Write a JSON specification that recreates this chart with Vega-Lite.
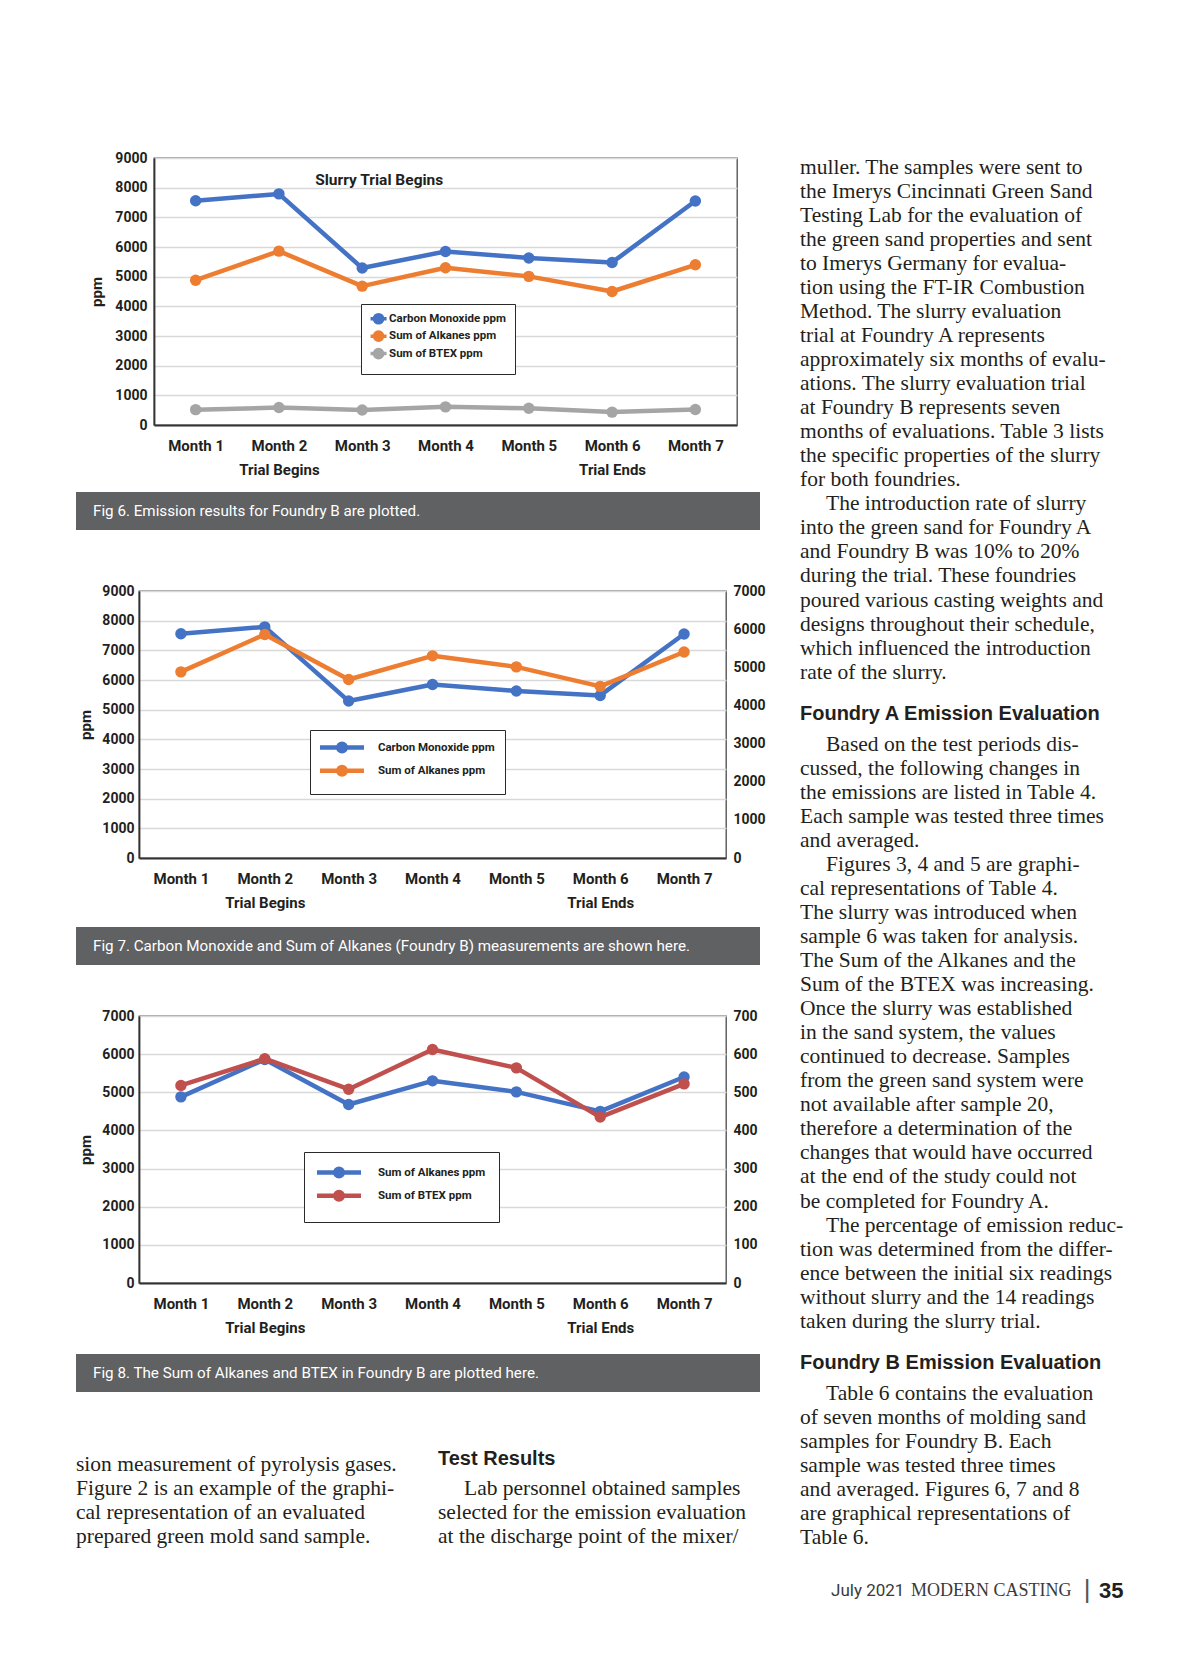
{
  "$schema": "https://vega.github.io/schema/vega-lite/v6.json",
  "background": "white",
  "padding": {"left": 76, "top": 150, "right": 4, "bottom": 4},
  "spacing": 0,
  "resolve": {"scale": {"color": "independent"}, "legend": {"color": "independent"}},
  "config": {
    "view": {"stroke": null},
    "axis": {
      "labelFont": "Roboto, DejaVu Sans Condensed, sans-serif",
      "labelFontWeight": "bold",
      "labelColor": "#231f20",
      "titleFont": "Roboto, DejaVu Sans Condensed, sans-serif",
      "titleFontWeight": "bold",
      "titleColor": "#231f20",
      "titleFontSize": 15,
      "ticks": false,
      "tickSize": 0,
      "domainColor": "#333333",
      "domainWidth": 1.8
    },
    "axisY": {"labelFontSize": 14, "gridColor": "#d9d9d9", "gridWidth": 1.5},
    "axisX": {"labelFontSize": 15, "grid": false},
    "legend": {
      "labelFont": "Roboto, DejaVu Sans Condensed, sans-serif",
      "labelFontWeight": "bold",
      "labelFontSize": 11.5,
      "labelColor": "#231f20",
      "fillColor": "#ffffff",
      "strokeColor": "#2a2a2a",
      "orient": "none"
    }
  },
  "datasets": {
    "emissions": [
      {"month": "Month 1", "series": "Carbon Monoxide ppm", "ppm": 7560},
      {"month": "Month 2", "series": "Carbon Monoxide ppm", "ppm": 7790},
      {"month": "Month 3", "series": "Carbon Monoxide ppm", "ppm": 5290},
      {"month": "Month 4", "series": "Carbon Monoxide ppm", "ppm": 5850},
      {"month": "Month 5", "series": "Carbon Monoxide ppm", "ppm": 5630},
      {"month": "Month 6", "series": "Carbon Monoxide ppm", "ppm": 5480},
      {"month": "Month 7", "series": "Carbon Monoxide ppm", "ppm": 7550},
      {"month": "Month 1", "series": "Sum of Alkanes ppm", "ppm": 4880},
      {"month": "Month 2", "series": "Sum of Alkanes ppm", "ppm": 5860},
      {"month": "Month 3", "series": "Sum of Alkanes ppm", "ppm": 4680},
      {"month": "Month 4", "series": "Sum of Alkanes ppm", "ppm": 5300},
      {"month": "Month 5", "series": "Sum of Alkanes ppm", "ppm": 5010},
      {"month": "Month 6", "series": "Sum of Alkanes ppm", "ppm": 4500},
      {"month": "Month 7", "series": "Sum of Alkanes ppm", "ppm": 5400},
      {"month": "Month 1", "series": "Sum of BTEX ppm", "ppm": 518},
      {"month": "Month 2", "series": "Sum of BTEX ppm", "ppm": 588},
      {"month": "Month 3", "series": "Sum of BTEX ppm", "ppm": 508},
      {"month": "Month 4", "series": "Sum of BTEX ppm", "ppm": 612},
      {"month": "Month 5", "series": "Sum of BTEX ppm", "ppm": 564},
      {"month": "Month 6", "series": "Sum of BTEX ppm", "ppm": 435},
      {"month": "Month 7", "series": "Sum of BTEX ppm", "ppm": 522}
    ],
    "pagetext": [
      {"column": "right", "line": 0, "kind": "body", "text": "muller. The samples were sent to"},
      {"column": "right", "line": 1, "kind": "body", "text": "the Imerys Cincinnati Green Sand"},
      {"column": "right", "line": 2, "kind": "body", "text": "Testing Lab for the evaluation of"},
      {"column": "right", "line": 3, "kind": "body", "text": "the green sand properties and sent"},
      {"column": "right", "line": 4, "kind": "body", "text": "to Imerys Germany for evalua-"},
      {"column": "right", "line": 5, "kind": "body", "text": "tion using the FT-IR Combustion"},
      {"column": "right", "line": 6, "kind": "body", "text": "Method. The slurry evaluation"},
      {"column": "right", "line": 7, "kind": "body", "text": "trial at Foundry A represents"},
      {"column": "right", "line": 8, "kind": "body", "text": "approximately six months of evalu-"},
      {"column": "right", "line": 9, "kind": "body", "text": "ations. The slurry evaluation trial"},
      {"column": "right", "line": 10, "kind": "body", "text": "at Foundry B represents seven"},
      {"column": "right", "line": 11, "kind": "body", "text": "months of evaluations. Table 3 lists"},
      {"column": "right", "line": 12, "kind": "body", "text": "the specific properties of the slurry"},
      {"column": "right", "line": 13, "kind": "body", "text": "for both foundries."},
      {"column": "right", "line": 14, "kind": "first", "text": "The introduction rate of slurry"},
      {"column": "right", "line": 15, "kind": "body", "text": "into the green sand for Foundry A"},
      {"column": "right", "line": 16, "kind": "body", "text": "and Foundry B was 10% to 20%"},
      {"column": "right", "line": 17, "kind": "body", "text": "during the trial. These foundries"},
      {"column": "right", "line": 18, "kind": "body", "text": "poured various casting weights and"},
      {"column": "right", "line": 19, "kind": "body", "text": "designs throughout their schedule,"},
      {"column": "right", "line": 20, "kind": "body", "text": "which influenced the introduction"},
      {"column": "right", "line": 21, "kind": "body", "text": "rate of the slurry."},
      {"column": "right", "line": 23, "kind": "heading", "text": "Foundry A Emission Evaluation"},
      {"column": "right", "line": 24, "kind": "first", "text": "Based on the test periods dis-"},
      {"column": "right", "line": 25, "kind": "body", "text": "cussed, the following changes in"},
      {"column": "right", "line": 26, "kind": "body", "text": "the emissions are listed in Table 4."},
      {"column": "right", "line": 27, "kind": "body", "text": "Each sample was tested three times"},
      {"column": "right", "line": 28, "kind": "body", "text": "and averaged."},
      {"column": "right", "line": 29, "kind": "first", "text": "Figures 3, 4 and 5 are graphi-"},
      {"column": "right", "line": 30, "kind": "body", "text": "cal representations of Table 4."},
      {"column": "right", "line": 31, "kind": "body", "text": "The slurry was introduced when"},
      {"column": "right", "line": 32, "kind": "body", "text": "sample 6 was taken for analysis."},
      {"column": "right", "line": 33, "kind": "body", "text": "The Sum of the Alkanes and the"},
      {"column": "right", "line": 34, "kind": "body", "text": "Sum of the BTEX was increasing."},
      {"column": "right", "line": 35, "kind": "body", "text": "Once the slurry was established"},
      {"column": "right", "line": 36, "kind": "body", "text": "in the sand system, the values"},
      {"column": "right", "line": 37, "kind": "body", "text": "continued to decrease. Samples"},
      {"column": "right", "line": 38, "kind": "body", "text": "from the green sand system were"},
      {"column": "right", "line": 39, "kind": "body", "text": "not available after sample 20,"},
      {"column": "right", "line": 40, "kind": "body", "text": "therefore a determination of the"},
      {"column": "right", "line": 41, "kind": "body", "text": "changes that would have occurred"},
      {"column": "right", "line": 42, "kind": "body", "text": "at the end of the study could not"},
      {"column": "right", "line": 43, "kind": "body", "text": "be completed for Foundry A."},
      {"column": "right", "line": 44, "kind": "first", "text": "The percentage of emission reduc-"},
      {"column": "right", "line": 45, "kind": "body", "text": "tion was determined from the differ-"},
      {"column": "right", "line": 46, "kind": "body", "text": "ence between the initial six readings"},
      {"column": "right", "line": 47, "kind": "body", "text": "without slurry and the 14 readings"},
      {"column": "right", "line": 48, "kind": "body", "text": "taken during the slurry trial."},
      {"column": "right", "line": 50, "kind": "heading", "text": "Foundry B Emission Evaluation"},
      {"column": "right", "line": 51, "kind": "first", "text": "Table 6 contains the evaluation"},
      {"column": "right", "line": 52, "kind": "body", "text": "of seven months of molding sand"},
      {"column": "right", "line": 53, "kind": "body", "text": "samples for Foundry B. Each"},
      {"column": "right", "line": 54, "kind": "body", "text": "sample was tested three times"},
      {"column": "right", "line": 55, "kind": "body", "text": "and averaged. Figures 6, 7 and 8"},
      {"column": "right", "line": 56, "kind": "body", "text": "are graphical representations of"},
      {"column": "right", "line": 57, "kind": "body", "text": "Table 6."},
      {"column": "left", "line": 54, "kind": "body", "text": "sion measurement of pyrolysis gases."},
      {"column": "left", "line": 55, "kind": "body", "text": "Figure 2 is an example of the graphi-"},
      {"column": "left", "line": 56, "kind": "body", "text": "cal representation of an evaluated"},
      {"column": "left", "line": 57, "kind": "body", "text": "prepared green mold sand sample."},
      {"column": "middle", "line": 54, "kind": "heading", "text": "Test Results"},
      {"column": "middle", "line": 55, "kind": "first", "text": "Lab personnel obtained samples"},
      {"column": "middle", "line": 56, "kind": "body", "text": "selected for the emission evaluation"},
      {"column": "middle", "line": 57, "kind": "body", "text": "at the discharge point of the mixer/"},
      {"column": "right", "line": 59, "kind": "footer-issue", "text": "July 2021"},
      {"column": "right", "line": 59, "kind": "footer-title", "text": "MODERN CASTING"},
      {"column": "right", "line": 59, "kind": "footer-sep", "text": "|"},
      {"column": "right", "line": 59, "kind": "footer-page", "text": "35"}
    ]
  },
  "hconcat": [
    {
      "spacing": 0,
      "resolve": {"scale": {"color": "independent"}, "legend": {"color": "independent"}},
      "vconcat": [
        {
          "spacing": 0,
          "resolve": {"scale": {"color": "independent"}, "legend": {"color": "independent"}},
          "hconcat": [
            {"width": 12, "height": 1, "data": {"values": [{}]}, "mark": {"type": "text", "text": ""}},
            {
              "width": 583, "height": 267,
              "view": {"stroke": "#4a4a4a", "strokeWidth": 1.3},
              "data": {"name": "emissions"},
              "encoding": {
                "x": {"field": "month", "type": "ordinal", "axis": {"title": null, "labelAngle": 0, "labelBaseline": "top", "labelPadding": 13, "labelLineHeight": 24, "labelExpr": "datum.value == 'Month 2' ? ['Month 2', 'Trial Begins'] : datum.value == 'Month 6' ? ['Month 6', 'Trial Ends'] : datum.value"}},
                "y": {"field": "ppm", "type": "quantitative", "scale": {"domain": [0, 9000], "nice": false},
                  "axis": {"title": "ppm", "values": [0, 1000, 2000, 3000, 4000, 5000, 6000, 7000, 8000, 9000], "format": "d", "grid": true, "labelPadding": 7, "titleX": -58, "titleY": 133.5, "titleAngle": 270, "titleBaseline": "middle", "titleAlign": "center"}}
              },
              "layer": [
                {
                  "mark": {"type": "line", "strokeWidth": 4.5, "strokeJoin": "round"},
                  "encoding": {
                    "color": {"field": "series", "type": "nominal",
                      "scale": {"domain": ["Carbon Monoxide ppm", "Sum of Alkanes ppm", "Sum of BTEX ppm"], "range": ["#4472c4", "#ed7d31", "#a5a5a5"]},
                      "legend": {"title": null, "legendX": 207, "legendY": 146, "symbolType": "M-2.67,0H2.67M-0.6,0A0.6,0.6,0,1,1,0.6,0A0.6,0.6,0,1,1,-0.6,0ZM-1.367,0A1.367,1.367,0,1,1,1.367,0A1.367,1.367,0,1,1,-1.367,0Z", "symbolSize": 36, "symbolStrokeWidth": 3.5, "symbolOffset": 2.8, "labelOffset": 4.75, "padding": 9, "rowPadding": -5.6}}
                  }
                },
                {
                  "mark": {"type": "point", "filled": true, "size": 130, "opacity": 1},
                  "encoding": {"color": {"field": "series", "type": "nominal", "legend": null}}
                },
                {
                  "data": {"values": [{"month": "Month 3", "ppm": 8250, "note": "Slurry Trial Begins"}]},
                  "mark": {"type": "text", "font": "Roboto, DejaVu Sans Condensed, sans-serif", "fontWeight": "bold", "fontSize": 15.5, "color": "#231f20", "dx": 17},
                  "encoding": {"text": {"field": "note"}}
                }
              ]
            }
          ]
        },
        {"width": 1, "height": 14, "data": {"values": [{}]}, "mark": {"type": "text", "text": ""}},
        {
          "width": 684, "height": 38,
          "view": {"fill": "#606163", "stroke": null},
          "data": {"values": [{"figure": "Fig 6", "caption": "Fig 6. Emission results for Foundry B are plotted."}]},
          "mark": {"type": "text", "align": "left", "baseline": "middle", "dx": 17, "color": "#ffffff", "font": "Roboto, DejaVu Sans Condensed, sans-serif", "fontSize": 15.2},
          "encoding": {
            "x": {"field": "figure", "type": "nominal", "scale": {"type": "band", "paddingInner": 0, "paddingOuter": 0}, "bandPosition": 0, "axis": null},
            "text": {"field": "caption"}
          }
        },
        {"width": 1, "height": 53, "data": {"values": [{}]}, "mark": {"type": "text", "text": ""}},
        {
          "spacing": 0,
          "resolve": {"scale": {"color": "independent"}, "legend": {"color": "independent"}},
          "hconcat": [
            {"width": 1, "height": 1, "data": {"values": [{}]}, "mark": {"type": "text", "text": ""}},
            {
              "width": 587, "height": 267,
              "view": {"stroke": "#4a4a4a", "strokeWidth": 1.3},
              "data": {"name": "emissions"},
              "encoding": {
                "x": {"field": "month", "type": "ordinal", "axis": {"title": null, "labelAngle": 0, "labelBaseline": "top", "labelPadding": 13, "labelLineHeight": 24, "labelExpr": "datum.value == 'Month 2' ? ['Month 2', 'Trial Begins'] : datum.value == 'Month 6' ? ['Month 6', 'Trial Ends'] : datum.value"}}
              },
              "layer": [
                {
                  "transform": [{"filter": {"field": "series", "equal": "Carbon Monoxide ppm"}}],
                  "encoding": {
                    "y": {"field": "ppm", "type": "quantitative", "scale": {"domain": [0, 9000], "nice": false},
                      "axis": {"title": "ppm", "values": [0, 1000, 2000, 3000, 4000, 5000, 6000, 7000, 8000, 9000], "format": "d", "grid": true, "labelPadding": 5, "titleX": -54, "titleY": 133.5, "titleAngle": 270, "titleBaseline": "middle", "titleAlign": "center"}}
                  },
                  "layer": [
                    {
                      "mark": {"type": "line", "strokeWidth": 4.5, "strokeJoin": "round"},
                      "encoding": {"color": {"field": "series", "type": "nominal",
                        "scale": {"domain": ["Carbon Monoxide ppm", "Sum of Alkanes ppm"], "range": ["#4472c4", "#ed7d31"]},
                        "legend": {"title": null, "legendX": 171, "legendY": 139, "symbolType": "M-4.4,0H4.4M-0.44,0A0.44,0.44,0,1,1,0.44,0A0.44,0.44,0,1,1,-0.44,0ZM-0.76,0A0.76,0.76,0,1,1,0.76,0A0.76,0.76,0,1,1,-0.76,0Z", "symbolSize": 100, "symbolStrokeWidth": 4.5, "symbolOffset": 14.5, "labelOffset": 28.4, "padding": 10, "rowPadding": -3.8}}}
                    },
                    {
                      "mark": {"type": "point", "filled": true, "size": 130, "opacity": 1},
                      "encoding": {"color": {"field": "series", "type": "nominal", "legend": null}}
                    }
                  ]
                },
                {
                  "transform": [{"filter": {"field": "series", "equal": "Sum of Alkanes ppm"}}],
                  "encoding": {
                    "y": {"field": "ppm", "type": "quantitative", "scale": {"domain": [0, 7000], "nice": false},
                      "axis": {"orient": "right", "title": null, "values": [0, 1000, 2000, 3000, 4000, 5000, 6000, 7000], "format": "d", "grid": false, "domain": false, "labelPadding": 7}}
                  },
                  "layer": [
                    {
                      "mark": {"type": "line", "strokeWidth": 4.5, "strokeJoin": "round"},
                      "encoding": {"color": {"field": "series", "type": "nominal",
                        "scale": {"domain": ["Carbon Monoxide ppm", "Sum of Alkanes ppm"], "range": ["#4472c4", "#ed7d31"]},
                        "legend": {"title": null, "legendX": 171, "legendY": 139, "symbolType": "M-4.4,0H4.4M-0.44,0A0.44,0.44,0,1,1,0.44,0A0.44,0.44,0,1,1,-0.44,0ZM-0.76,0A0.76,0.76,0,1,1,0.76,0A0.76,0.76,0,1,1,-0.76,0Z", "symbolSize": 100, "symbolStrokeWidth": 4.5, "symbolOffset": 14.5, "labelOffset": 28.4, "padding": 10, "rowPadding": -3.8}}}
                    },
                    {
                      "mark": {"type": "point", "filled": true, "size": 130, "opacity": 1},
                      "encoding": {"color": {"field": "series", "type": "nominal", "legend": null}}
                    }
                  ]
                }
              ],
              "resolve": {"scale": {"y": "independent"}}
            }
          ]
        },
        {"width": 1, "height": 16, "data": {"values": [{}]}, "mark": {"type": "text", "text": ""}},
        {
          "width": 684, "height": 38,
          "view": {"fill": "#606163", "stroke": null},
          "data": {"values": [{"figure": "Fig 7", "caption": "Fig 7. Carbon Monoxide and Sum of Alkanes (Foundry B) measurements are shown here."}]},
          "mark": {"type": "text", "align": "left", "baseline": "middle", "dx": 17, "color": "#ffffff", "font": "Roboto, DejaVu Sans Condensed, sans-serif", "fontSize": 15.2},
          "encoding": {
            "x": {"field": "figure", "type": "nominal", "scale": {"type": "band", "paddingInner": 0, "paddingOuter": 0}, "bandPosition": 0, "axis": null},
            "text": {"field": "caption"}
          }
        },
        {"width": 1, "height": 43, "data": {"values": [{}]}, "mark": {"type": "text", "text": ""}},
        {
          "spacing": 0,
          "resolve": {"scale": {"color": "independent"}, "legend": {"color": "independent"}},
          "hconcat": [
            {"width": 1, "height": 1, "data": {"values": [{}]}, "mark": {"type": "text", "text": ""}},
            {
              "width": 587, "height": 267,
              "view": {"stroke": "#4a4a4a", "strokeWidth": 1.3},
              "data": {"name": "emissions"},
              "encoding": {
                "x": {"field": "month", "type": "ordinal", "axis": {"title": null, "labelAngle": 0, "labelBaseline": "top", "labelPadding": 13, "labelLineHeight": 24, "labelExpr": "datum.value == 'Month 2' ? ['Month 2', 'Trial Begins'] : datum.value == 'Month 6' ? ['Month 6', 'Trial Ends'] : datum.value"}}
              },
              "layer": [
                {
                  "transform": [{"filter": {"field": "series", "equal": "Sum of Alkanes ppm"}}],
                  "encoding": {
                    "y": {"field": "ppm", "type": "quantitative", "scale": {"domain": [0, 7000], "nice": false},
                      "axis": {"title": "ppm", "values": [0, 1000, 2000, 3000, 4000, 5000, 6000, 7000], "format": "d", "grid": true, "labelPadding": 5, "titleX": -54, "titleY": 133.5, "titleAngle": 270, "titleBaseline": "middle", "titleAlign": "center"}}
                  },
                  "layer": [
                    {
                      "mark": {"type": "line", "strokeWidth": 4.5, "strokeJoin": "round"},
                      "encoding": {"color": {"field": "series", "type": "nominal",
                        "scale": {"domain": ["Sum of Alkanes ppm", "Sum of BTEX ppm"], "range": ["#4472c4", "#c0504d"]},
                        "legend": {"title": null, "legendX": 165, "legendY": 136, "symbolType": "M-4.4,0H4.4M-0.44,0A0.44,0.44,0,1,1,0.44,0A0.44,0.44,0,1,1,-0.44,0ZM-0.76,0A0.76,0.76,0,1,1,0.76,0A0.76,0.76,0,1,1,-0.76,0Z", "symbolSize": 100, "symbolStrokeWidth": 4.5, "symbolOffset": 14.5, "labelOffset": 31.5, "padding": 13, "rowPadding": -3.8}}}
                    },
                    {
                      "mark": {"type": "point", "filled": true, "size": 130, "opacity": 1},
                      "encoding": {"color": {"field": "series", "type": "nominal", "legend": null}}
                    }
                  ]
                },
                {
                  "transform": [{"filter": {"field": "series", "equal": "Sum of BTEX ppm"}}],
                  "encoding": {
                    "y": {"field": "ppm", "type": "quantitative", "scale": {"domain": [0, 700], "nice": false},
                      "axis": {"orient": "right", "title": null, "values": [0, 100, 200, 300, 400, 500, 600, 700], "format": "d", "grid": false, "domain": false, "labelPadding": 7}}
                  },
                  "layer": [
                    {
                      "mark": {"type": "line", "strokeWidth": 4.5, "strokeJoin": "round"},
                      "encoding": {"color": {"field": "series", "type": "nominal",
                        "scale": {"domain": ["Sum of Alkanes ppm", "Sum of BTEX ppm"], "range": ["#4472c4", "#c0504d"]},
                        "legend": {"title": null, "legendX": 165, "legendY": 136, "symbolType": "M-4.4,0H4.4M-0.44,0A0.44,0.44,0,1,1,0.44,0A0.44,0.44,0,1,1,-0.44,0ZM-0.76,0A0.76,0.76,0,1,1,0.76,0A0.76,0.76,0,1,1,-0.76,0Z", "symbolSize": 100, "symbolStrokeWidth": 4.5, "symbolOffset": 14.5, "labelOffset": 31.5, "padding": 13, "rowPadding": -3.8}}}
                    },
                    {
                      "mark": {"type": "point", "filled": true, "size": 130, "opacity": 1},
                      "encoding": {"color": {"field": "series", "type": "nominal", "legend": null}}
                    }
                  ]
                }
              ],
              "resolve": {"scale": {"y": "independent"}}
            }
          ]
        },
        {"width": 1, "height": 18, "data": {"values": [{}]}, "mark": {"type": "text", "text": ""}},
        {
          "width": 684, "height": 38,
          "view": {"fill": "#606163", "stroke": null},
          "data": {"values": [{"figure": "Fig 8", "caption": "Fig 8. The Sum of Alkanes and BTEX in Foundry B are plotted here."}]},
          "mark": {"type": "text", "align": "left", "baseline": "middle", "dx": 17, "color": "#ffffff", "font": "Roboto, DejaVu Sans Condensed, sans-serif", "fontSize": 15.2},
          "encoding": {
            "x": {"field": "figure", "type": "nominal", "scale": {"type": "band", "paddingInner": 0, "paddingOuter": 0}, "bandPosition": 0, "axis": null},
            "text": {"field": "caption"}
          }
        },
        {"width": 1, "height": 53.7, "data": {"values": [{}]}, "mark": {"type": "text", "text": ""}},
        {
          "width": 724, "height": 105.8,
          "data": {"name": "pagetext"},
          "transform": [{"filter": {"field": "column", "oneOf": ["left", "middle"]}}],
          "encoding": {
            "x": {"field": "column", "type": "nominal", "scale": {"type": "band", "domain": ["left", "middle"], "paddingInner": 0, "paddingOuter": 0}, "bandPosition": 0, "axis": null},
            "y": {"field": "line", "type": "quantitative", "scale": {"domain": [53.2, 57.6], "reverse": true, "nice": false, "zero": false}, "axis": null},
            "text": {"field": "text"}
          },
          "layer": [
            {"transform": [{"filter": {"field": "kind", "equal": "body"}}],
             "mark": {"type": "text", "align": "left", "baseline": "middle", "font": "Liberation Serif, Times New Roman, serif", "fontSize": 21.5, "color": "#231f20"}},
            {"transform": [{"filter": {"field": "kind", "equal": "first"}}],
             "mark": {"type": "text", "align": "left", "baseline": "middle", "dx": 26, "font": "Liberation Serif, Times New Roman, serif", "fontSize": 21.5, "color": "#231f20"}},
            {"transform": [{"filter": {"field": "kind", "equal": "heading"}}],
             "mark": {"type": "text", "align": "left", "baseline": "middle", "dy": -6.5, "font": "Liberation Sans, Arial, sans-serif", "fontWeight": "bold", "fontSize": 20, "color": "#231f20"}}
          ]
        }
      ]
    },
    {
      "width": 323, "height": 1442.6,
      "data": {"name": "pagetext"},
      "transform": [{"filter": {"field": "column", "equal": "right"}}],
      "encoding": {
        "x": {"field": "column", "type": "nominal", "scale": {"type": "band", "domain": ["right"], "paddingInner": 0, "paddingOuter": 0}, "bandPosition": 0, "axis": null},
        "y": {"field": "line", "type": "quantitative", "scale": {"domain": [-0.408, 59.6], "reverse": true, "nice": false, "zero": false}, "axis": null},
        "text": {"field": "text"}
      },
      "layer": [
        {"transform": [{"filter": {"field": "kind", "equal": "body"}}],
         "mark": {"type": "text", "align": "left", "baseline": "middle", "font": "Liberation Serif, Times New Roman, serif", "fontSize": 21.5, "color": "#231f20"}},
        {"transform": [{"filter": {"field": "kind", "equal": "first"}}],
         "mark": {"type": "text", "align": "left", "baseline": "middle", "dx": 26, "font": "Liberation Serif, Times New Roman, serif", "fontSize": 21.5, "color": "#231f20"}},
        {"transform": [{"filter": {"field": "kind", "equal": "heading"}}],
         "mark": {"type": "text", "align": "left", "baseline": "middle", "dy": -6.5, "font": "Liberation Sans, Arial, sans-serif", "fontWeight": "bold", "fontSize": 20, "color": "#231f20"}},
        {"transform": [{"filter": {"field": "kind", "equal": "footer-issue"}}],
         "mark": {"type": "text", "align": "left", "baseline": "middle", "dx": 31, "dy": 5, "font": "Roboto, sans-serif", "fontSize": 17, "color": "#3a3a3a"}},
        {"transform": [{"filter": {"field": "kind", "equal": "footer-title"}}],
         "mark": {"type": "text", "align": "left", "baseline": "middle", "dx": 111, "dy": 5, "font": "Liberation Serif, Times New Roman, serif", "fontSize": 18, "color": "#3a3a3a"}},
        {"transform": [{"filter": {"field": "kind", "equal": "footer-sep"}}],
         "mark": {"type": "text", "align": "center", "baseline": "middle", "dx": 287, "dy": 4, "font": "Liberation Sans, Arial, sans-serif", "fontSize": 26, "color": "#555555"}},
        {"transform": [{"filter": {"field": "kind", "equal": "footer-page"}}],
         "mark": {"type": "text", "align": "left", "baseline": "middle", "dx": 299, "dy": 5, "font": "Liberation Sans, Arial, sans-serif", "fontWeight": "bold", "fontSize": 22, "color": "#231f20"}}
      ]
    }
  ]
}
